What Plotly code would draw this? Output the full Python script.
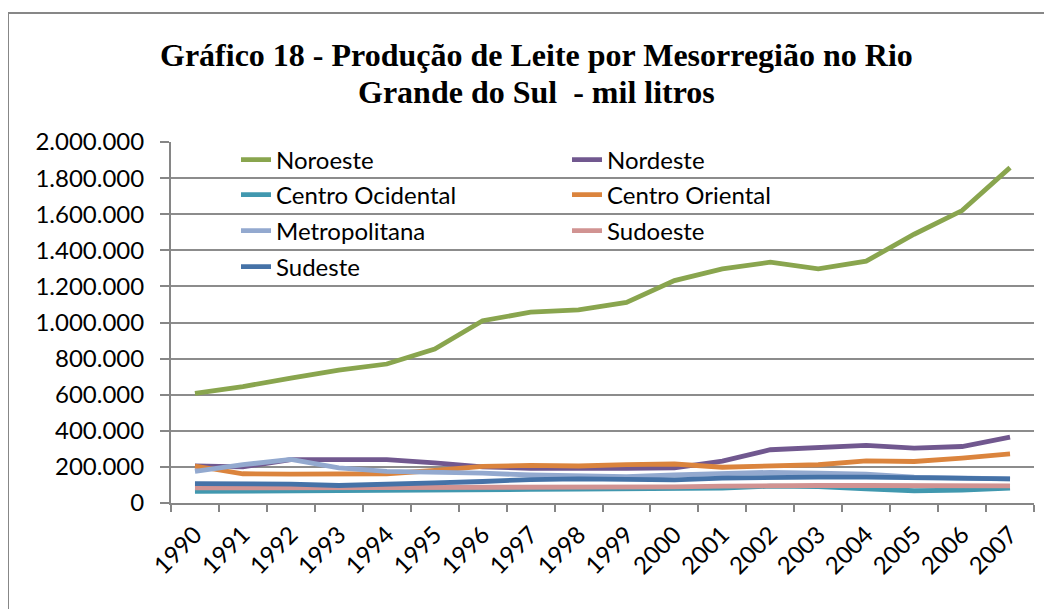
import plotly.graph_objects as go

years = [str(y) for y in range(1990, 2008)]

noroeste = [608, 645, 692, 736, 770, 853, 1010, 1057, 1070, 1111, 1232, 1297, 1334, 1297, 1340, 1489, 1620, 1858]
nordeste = [205, 200, 240, 243, 240, 222, 200, 192, 190, 192, 195, 232, 295, 306, 319, 304, 313, 365]
centro_ocidental = [64, 65, 65, 66, 67, 68, 68, 75, 77, 78, 78, 82, 93, 91, 79, 68, 71, 82]
centro_oriental = [205, 162, 160, 158, 162, 180, 203, 208, 205, 213, 216, 198, 205, 212, 233, 230, 249, 272]
metropolitana = [175, 212, 242, 194, 175, 171, 165, 155, 148, 146, 155, 165, 170, 165, 160, 143, 138, 134]
sudoeste = [84, 84, 84, 84, 85, 87, 88, 84, 84, 86, 89, 93, 97, 97, 97, 95, 95, 95]
sudeste = [107, 107, 105, 97, 107, 112, 119, 130, 134, 130, 128, 138, 143, 143, 143, 138, 138, 134]

title_lines = ["Gráfico 18 - Produção de Leite por Mesorregião no Rio", "Grande do Sul  - mil litros"]

series = [
    ("Noroeste", noroeste, "#89A54E", "legend"),
    ("Nordeste", nordeste, "#71588F", "legend"),
    ("Centro Ocidental", centro_ocidental, "#4198AF", "legend2"),
    ("Centro Oriental", centro_oriental, "#DB843D", "legend2"),
    ("Metropolitana", metropolitana, "#93A9CF", "legend3"),
    ("Sudoeste", sudoeste, "#D19392", "legend3"),
    ("Sudeste", sudeste, "#4572A7", "legend4"),
]

fig = go.Figure()
for name, vals, color, lg in series:
    fig.add_trace(go.Scatter(
        x=years, y=[v * 1000 for v in vals], name=name, mode="lines",
        line=dict(color=color, width=4.8), legend=lg,
    ))

# The page body has an 8px margin; screen coordinates below are compensated.
OFF = 8
W, H = 1052 - OFF, 609 - OFF
plot_left, plot_right, plot_top, plot_bottom = 171, 1034, 142, 503  # screen px
L = plot_left - OFF
R = W - (plot_right - OFF)
T = plot_top - OFF
B = H - (plot_bottom - OFF)
pw, ph = W - L - R, H - T - B

def px_to_paper_x(sx):
    return (sx - OFF - L) / pw

def px_to_paper_y(sy):
    return (H - B - (sy - OFF)) / ph

tick_font = dict(family="Lato, Calibri, sans-serif", size=24, color="#000000")

legend_common = dict(
    orientation="h", bgcolor="rgba(0,0,0,0)", font=tick_font,
    entrywidth=286, entrywidthmode="pixels", xanchor="left", yanchor="middle",
    itemclick=False, tracegroupgap=0,
)
leg_x = px_to_paper_x(236)
rows = [160, 195, 231, 267]

fig.update_layout(
    width=W, height=H,
    margin=dict(l=L, r=R, t=T, b=B),
    paper_bgcolor="white", plot_bgcolor="white",
    separators=",.",
    xaxis=dict(
        type="category", range=[-0.5, len(years) - 0.5], tickson="boundaries",
        ticks="outside", ticklen=7,
        tickcolor="#868686", tickwidth=2, showline=True, linecolor="#868686", linewidth=2,
        showgrid=False, tickangle=-45, tickfont=tick_font, fixedrange=True,
        ticklabelstandoff=6,
    ),
    yaxis=dict(
        range=[0, 2000000], dtick=200000, tickformat=",d",
        ticks="outside", ticklen=9, tickcolor="#868686", tickwidth=2,
        showline=True, linecolor="#868686", linewidth=2,
        showgrid=True, gridcolor="#8C8C8C", gridwidth=1.5,
        tickfont=tick_font, zeroline=False, fixedrange=True,
        ticklabelstandoff=11,
    ),
    legend=dict(legend_common, x=leg_x, y=px_to_paper_y(rows[0])),
    legend2=dict(legend_common, x=leg_x, y=px_to_paper_y(rows[1])),
    legend3=dict(legend_common, x=leg_x, y=px_to_paper_y(rows[2])),
    legend4=dict(legend_common, x=leg_x, y=px_to_paper_y(rows[3])),
    showlegend=True,
)

title_font = dict(family="Liberation Serif, Times New Roman, serif", size=32, color="#000000", weight="bold")
for line, ypx in zip(title_lines, [55, 92]):
    fig.add_annotation(
        text=line, xref="paper", yref="paper",
        x=px_to_paper_x(536), y=px_to_paper_y(ypx),
        xanchor="center", yanchor="middle", showarrow=False, font=title_font,
    )

fig.add_shape(
    type="rect", xref="paper", yref="paper",
    x0=px_to_paper_x(8), x1=px_to_paper_x(1048),
    y0=px_to_paper_y(640), y1=px_to_paper_y(13),
    line=dict(color="#878787", width=2), fillcolor="rgba(0,0,0,0)", layer="below",
)

fig.write_html("out.html")
